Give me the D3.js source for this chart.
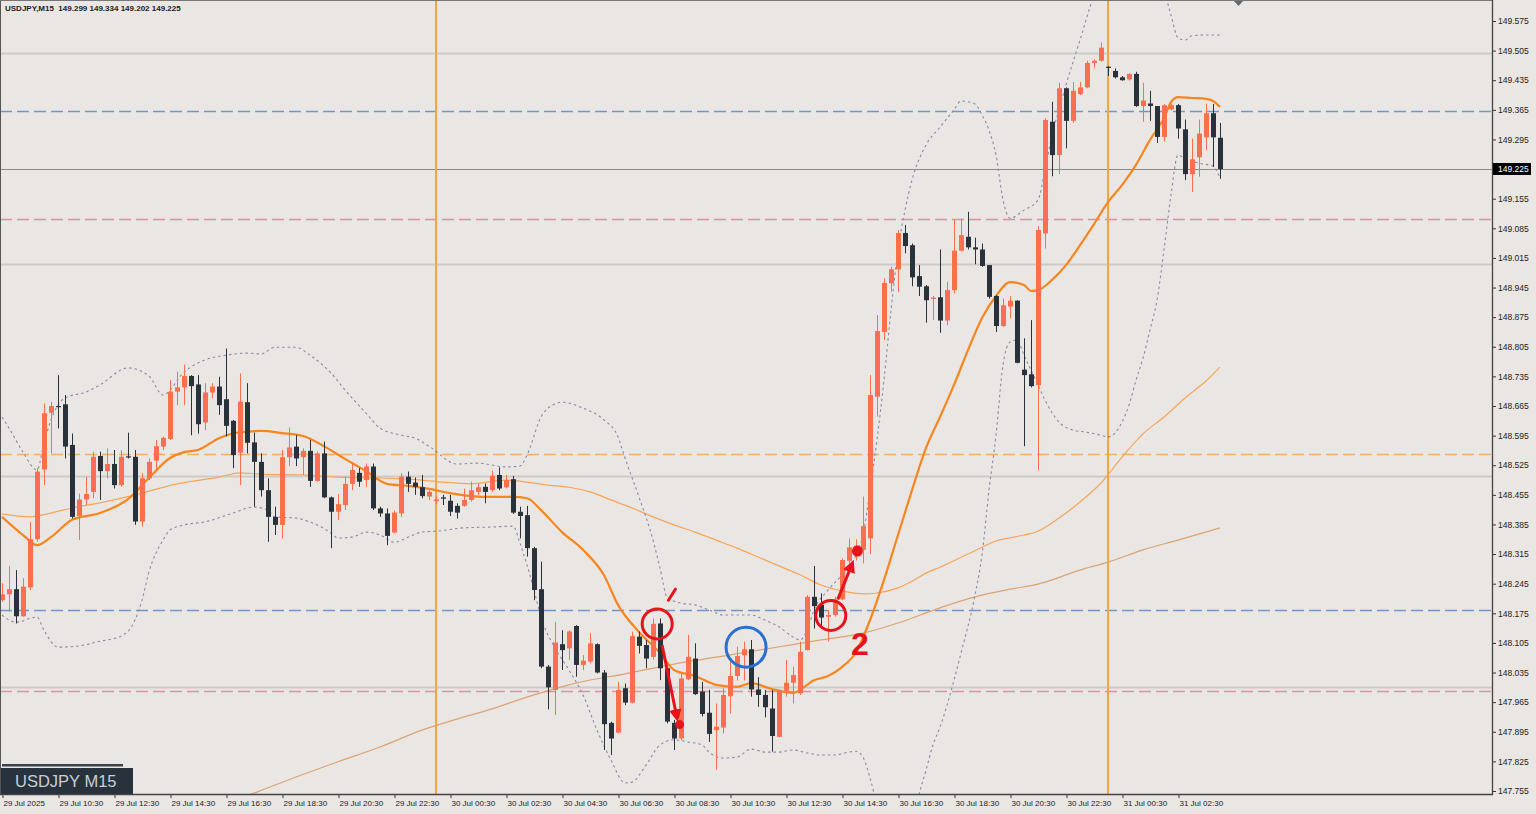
<!DOCTYPE html>
<html><head><meta charset="utf-8">
<script src="https://cdn.jsdelivr.net/npm/d3@7"></script>
<style>
html,body{margin:0;padding:0;background:#e9e6e3;}
svg{display:block;}
</style>
</head><body>
<svg id="chart" width="1536" height="814"></svg>
<script>
// ---------------- DATA ----------------
const headerText = "USDJPY,M15  149.299 149.334 149.202 149.225";
const symbolLabel = "USDJPY M15";
const lastPrice = 149.225;

const opens = [148.206,148.220,148.232,148.168,148.236,148.350,148.515,148.649,148.665,148.669,
148.573,148.405,148.444,148.462,148.547,148.511,148.528,148.478,148.546,148.545,
148.392,148.494,148.536,148.569,148.587,148.699,148.709,148.736,148.716,148.626,
148.697,148.711,148.681,148.630,148.555,148.674,148.579,148.533,148.466,148.403,
148.384,148.544,148.569,148.544,148.559,148.488,148.553,148.449,148.415,148.431,
148.481,148.507,148.490,148.522,148.423,148.411,148.366,148.411,148.498,148.484,
148.473,148.451,148.440,148.449,148.441,148.429,148.429,148.443,148.462,148.474,
148.466,148.502,148.473,148.492,148.415,148.407,148.329,148.232,148.049,147.994,
148.102,148.092,148.145,148.053,148.061,148.102,148.035,147.916,147.893,147.998,
147.964,148.120,148.100,148.072,148.151,148.045,147.916,147.879,148.019,148.068,
147.990,147.940,147.899,147.905,147.979,148.027,148.076,148.090,147.995,147.982,
147.950,147.883,147.992,148.011,147.986,148.088,148.214,148.195,148.167,148.171,
148.208,148.299,148.318,148.325,148.352,148.687,148.840,148.955,148.988,149.074,
149.045,148.972,148.948,148.918,148.922,148.867,148.939,149.032,149.065,149.040,
149.035,148.998,148.925,148.854,148.900,148.914,148.751,148.740,148.714,149.073,
149.337,149.258,149.416,149.339,149.402,149.418,149.476,149.481,149.467,149.457,
149.442,149.437,149.450,149.374,149.380,149.374,149.301,149.366,149.376,149.319,
149.213,149.253,149.300,149.357,149.299];
const highs = [148.246,148.287,148.277,148.258,148.391,148.518,148.671,148.675,148.738,148.691,
148.600,148.458,148.498,148.557,148.557,148.565,148.561,148.561,148.602,148.561,
148.507,148.541,148.585,148.593,148.726,148.746,148.763,148.738,148.738,148.719,
148.719,148.734,148.801,148.632,148.742,148.719,148.602,148.553,148.494,148.427,
148.561,148.614,148.596,148.565,148.585,148.557,148.581,148.451,148.457,148.498,
148.529,148.518,148.529,148.529,148.427,148.423,148.418,148.506,148.510,148.496,
148.502,148.466,148.451,148.455,148.455,148.435,148.470,148.486,148.482,148.482,
148.512,148.520,148.502,148.500,148.427,148.429,148.332,148.297,148.053,148.155,
148.135,148.135,148.147,148.076,148.128,148.104,148.041,147.919,148.013,148.009,
148.132,148.132,148.112,148.163,148.163,148.049,147.923,148.033,148.124,148.104,
148.013,147.994,147.962,147.998,148.061,148.096,148.108,148.112,148.024,147.994,
147.994,147.995,148.065,148.049,148.108,148.218,148.287,148.222,148.183,148.214,
148.305,148.352,148.350,148.451,148.738,148.880,148.967,148.994,149.081,149.093,
149.049,148.998,148.951,148.925,149.035,148.959,149.106,149.108,149.124,149.063,
149.049,148.998,148.927,148.919,148.925,148.915,148.825,148.868,149.090,149.345,
149.384,149.429,149.418,149.431,149.431,149.481,149.484,149.524,149.468,149.463,
149.445,149.451,149.455,149.429,149.410,149.374,149.379,149.380,149.379,149.342,
149.297,149.342,149.380,149.379,149.334];
const lows = [148.202,148.179,148.151,148.167,148.230,148.344,148.478,148.553,148.612,148.541,
148.399,148.348,148.431,148.447,148.443,148.494,148.470,148.474,148.541,148.384,
148.380,148.490,148.514,148.561,148.585,148.667,148.667,148.596,148.600,148.608,
148.683,148.644,148.593,148.518,148.478,148.553,148.427,148.451,148.344,148.360,
148.352,148.523,148.523,148.502,148.474,148.486,148.447,148.329,148.395,148.419,
148.466,148.474,148.474,148.419,148.403,148.336,148.364,148.403,148.462,148.455,
148.447,148.443,148.433,148.431,148.405,148.399,148.427,148.439,148.455,148.435,
148.462,148.466,148.470,148.410,148.352,148.309,148.206,148.045,147.948,147.935,
148.041,148.065,148.025,148.041,148.057,148.033,147.852,147.840,147.891,147.958,
147.962,148.080,148.045,148.065,148.017,147.915,147.852,147.875,148.017,147.982,
147.931,147.871,147.805,147.891,147.938,148.016,148.016,147.978,147.954,147.929,
147.848,147.882,147.978,147.962,147.982,148.087,148.139,148.139,148.108,148.167,
148.206,148.289,148.300,148.293,148.315,148.640,148.821,148.935,148.935,149.026,
148.948,148.925,148.862,148.868,148.838,148.856,148.931,149.030,149.035,149.000,
148.994,148.919,148.840,148.852,148.872,148.766,148.570,148.709,148.513,149.037,
149.208,149.213,149.274,149.335,149.400,149.416,149.463,149.479,149.445,149.439,
149.434,149.434,149.372,149.337,149.339,149.287,149.290,149.364,149.297,149.199,
149.171,149.207,149.270,149.230,149.202];
const closes = [148.220,148.232,148.168,148.238,148.350,148.510,148.648,148.665,148.663,148.569,
148.403,148.444,148.457,148.545,148.511,148.528,148.478,148.545,148.544,148.392,
148.494,148.533,148.570,148.590,148.699,148.709,148.736,148.712,148.622,148.697,
148.711,148.667,148.618,148.549,148.675,148.578,148.533,148.466,148.403,148.384,
148.544,148.567,148.541,148.559,148.488,148.553,148.449,148.415,148.433,148.481,
148.514,148.486,148.522,148.423,148.411,148.358,148.413,148.498,148.481,148.474,
148.452,148.462,148.444,148.446,148.415,148.413,148.443,148.466,148.473,148.462,
148.500,148.470,148.490,148.413,148.405,148.329,148.230,148.049,148.000,148.106,
148.088,148.132,148.053,148.063,148.104,148.035,147.913,147.879,147.994,147.964,
148.121,148.098,148.068,148.150,148.045,147.919,147.879,148.021,148.072,147.984,
147.937,147.890,147.907,147.982,148.027,148.074,148.090,147.995,147.982,147.953,
147.885,147.992,148.011,148.029,148.084,148.214,148.192,148.165,148.171,148.208,
148.301,148.331,148.335,148.381,148.691,148.842,148.956,148.988,149.074,149.043,
148.969,148.947,148.915,148.921,148.867,148.939,149.032,149.069,149.040,149.035,
148.996,148.923,148.854,148.903,148.914,148.767,148.738,148.712,149.081,149.341,
149.258,149.416,149.339,149.410,149.418,149.476,149.481,149.512,149.465,149.442,
149.435,149.450,149.374,149.387,149.374,149.301,149.376,149.376,149.321,149.213,
149.248,149.309,149.357,149.300,149.225];

// time axis labels (bar index, text)
const timeLabelBars = [0,8,16,24,32,40,48,56,64,72,80,88,96,104,112,120,128,136,144,152,160,168];
const timeLabels = ["29 Jul 2025","29 Jul 10:30","29 Jul 12:30","29 Jul 14:30","29 Jul 16:30","29 Jul 18:30",
"29 Jul 20:30","29 Jul 22:30","30 Jul 00:30","30 Jul 02:30","30 Jul 04:30","30 Jul 06:30","30 Jul 08:30",
"30 Jul 10:30","30 Jul 12:30","30 Jul 14:30","30 Jul 16:30","30 Jul 18:30","30 Jul 20:30","30 Jul 22:30",
"31 Jul 00:30","31 Jul 02:30"];
const priceTickLabels = ["147.755","147.825","147.895","147.965","148.035","148.105","148.175","148.245",
"148.315","148.385","148.455","148.525","148.595","148.665","148.735","148.805","148.875","148.945",
"149.015","149.085","149.155","149.225","149.295","149.365","149.435","149.505","149.575"];

// day separators (bar index)
const daySeparatorBars = [62,158];
// horizontal levels
const roundLevels = [148.0,148.5,149.0,149.5];
const blueLevels = [149.362,148.183];
const pinkLevels = [149.107,147.991];
const orangeLevels = [148.551];

// indicator lines: [bar, price]
const fastMA = [[0,148.403],[3,148.360],[5,148.336],[7,148.355],[10,148.396],[14,148.412],[18,148.445],[21,148.495],[24,148.542],[26,148.556],[28,148.561],[31,148.589],[34,148.603],[37,148.606],[40,148.601],[43,148.594],[46,148.570],[49,148.540],[52,148.511],[55,148.481],[58,148.476],[61,148.469],[64,148.459],[67,148.452],[70,148.450],[73,148.450],[75,148.447],[77,148.419],[80,148.367],[83,148.325],[86,148.265],[88,148.195],[91,148.131],[94,148.081],[96,148.041],[99,148.027],[102,148.006],[105,148.001],[107,148.010],[110,147.996],[113,147.987],[116,148.017],[118,148.027],[120,148.048],[122,148.083],[124,148.159],[126,148.254],[128,148.360],[130,148.466],[132,148.566],[134,148.639],[136,148.715],[138,148.797],[140,148.873],[142,148.925],[144,148.958],[146,148.951],[147,148.937],[148,148.939],[150,148.963],[152,148.998],[154,149.045],[156,149.095],[158,149.147],[160,149.187],[162,149.235],[164,149.294],[166,149.346],[167,149.383],[168,149.395],[170,149.393],[172,149.391],[173,149.386],[174,149.372]];
const midMA = [[0,148.410],[4,148.403],[7,148.412],[10,148.424],[14,148.436],[19,148.455],[25,148.481],[31,148.497],[34,148.507],[37,148.504],[43,148.502],[48,148.497],[54,148.495],[60,148.490],[63,148.485],[67,148.481],[72,148.490],[75,148.485],[78,148.478],[81,148.473],[84,148.462],[87,148.443],[90,148.424],[93,148.403],[96,148.384],[99,148.367],[102,148.348],[105,148.329],[108,148.308],[111,148.287],[114,148.266],[117,148.242],[120,148.228],[123,148.221],[125,148.223],[128,148.235],[130,148.251],[132,148.270],[134,148.284],[138,148.315],[142,148.346],[146,148.360],[148,148.369],[151,148.400],[154,148.438],[157,148.483],[160,148.544],[163,148.599],[166,148.639],[169,148.684],[172,148.724],[174,148.757]];
const slowMA = [[33,147.731],[36,147.750],[42,147.788],[48,147.824],[54,147.859],[60,147.899],[65,147.925],[70,147.949],[75,147.977],[82,148.010],[89,148.032],[96,148.055],[103,148.074],[110,148.093],[117,148.112],[123,148.128],[128,148.152],[134,148.188],[139,148.214],[144,148.232],[148,148.244],[154,148.277],[158,148.296],[163,148.325],[168,148.348],[174,148.377]];
const bbUpper = [[0,148.639],[1,148.613],[3,148.556],[5,148.514],[6,148.577],[7,148.632],[9,148.684],[12,148.698],[14,148.715],[18,148.755],[21,148.736],[23,148.691],[26,148.745],[29,148.774],[32,148.785],[35,148.790],[37,148.788],[39,148.804],[42,148.804],[44,148.785],[47,148.743],[49,148.703],[52,148.648],[54,148.613],[57,148.596],[59,148.589],[61,148.570],[65,148.528],[68,148.530],[72,148.521],[74,148.523],[75,148.549],[77,148.639],[79,148.670],[80,148.674],[83,148.660],[86,148.632],[88,148.592],[89,148.542],[91,148.450],[93,148.348],[94,148.282],[95,148.214],[97,148.199],[99,148.195],[101,148.183],[103,148.171],[107,148.171],[109,148.159],[111,148.143],[113,148.119],[114,148.112],[115,148.135],[116,148.183],[118,148.230],[120,148.266],[122,148.313],[123,148.360],[124,148.466],[125,148.585],[126,148.726],[127,148.891],[128,149.033],[129,149.128],[130,149.199],[132,149.282],[134,149.324],[136,149.365],[137,149.386],[139,149.379],[140,149.353],[141,149.317],[142,149.258],[143,149.152],[144,149.109],[146,149.128],[148,149.152],[149,149.223],[150,149.305],[151,149.365],[152,149.424],[154,149.530],[156,149.636],[158,149.707],[161,149.743],[164,149.719],[166,149.648],[167,149.589],[168,149.535],[169,149.530],[170,149.540],[172,149.542],[174,149.542]];
const bbLower = [[0,148.171],[2,148.154],[5,148.166],[6,148.135],[8,148.095],[11,148.098],[14,148.109],[17,148.121],[19,148.159],[20,148.206],[21,148.273],[23,148.348],[24,148.372],[26,148.384],[29,148.391],[33,148.412],[36,148.426],[38,148.419],[39,148.403],[42,148.400],[44,148.391],[47,148.365],[48,148.353],[50,148.355],[52,148.367],[54,148.360],[56,148.343],[58,148.355],[60,148.367],[62,148.369],[66,148.377],[70,148.379],[73,148.381],[74,148.341],[75,148.289],[76,148.230],[77,148.166],[79,148.093],[81,148.041],[83,147.982],[85,147.899],[87,147.828],[89,147.774],[90,147.776],[92,147.816],[94,147.864],[96,147.876],[98,147.871],[100,147.864],[101,147.847],[103,147.833],[105,147.835],[107,147.854],[109,147.847],[111,147.847],[113,147.852],[115,147.845],[117,147.840],[119,147.840],[121,147.847],[122,147.849],[123,147.835],[124,147.786],[125,147.722],[127,147.615],[129,147.592],[130,147.651],[131,147.745],[132,147.804],[133,147.864],[134,147.906],[136,148.017],[137,148.081],[139,148.218],[140,148.313],[141,148.466],[142,148.596],[143,148.762],[144,148.816],[145,148.821],[146,148.785],[147,148.750],[148,148.715],[149,148.679],[151,148.627],[153,148.608],[155,148.603],[157,148.596],[158,148.592],[159,148.601],[160,148.627],[161,148.667],[162,148.726],[163,148.778],[164,148.845],[165,148.915],[166,149.034],[167,149.164],[168,149.258],[169,149.251],[171,149.239],[173,149.232],[174,149.204]];

// hand-drawn annotations, anchored in (bar, price)
const annoCircles = [
  {bar:93.6, price:148.150, r:15, color:"#e8121a"},
  {bar:106.3, price:148.095, r:20, color:"#2b6fd0"},
  {bar:118.4, price:148.170, r:15, color:"#e8121a"}
];
const annoArrows = [
  {b0:94.3, p0:148.100, b1:96.4, p1:147.930},
  {b0:119.4, p0:148.208, b1:121.4, p1:148.290}
];
const annoDots = [{bar:96.8, price:147.912, r:4.5},{bar:122.2, price:148.322, r:5.5}];
const annoStrokes = [{b0:95.2, p0:148.206, b1:96.2, p1:148.232}];
const annoTexts = [{bar:121.3, price:148.076, text:"2"}];

// ---------------- DRAW ----------------
const svg = d3.select("#chart");
const W = 1536, H = 814;
const plotRight = 1492, plotBottom = 794;
const x = d3.scaleLinear().domain([0,174]).range([2,1220]);
const y = d3.scaleLinear().domain([147.755,149.575]).range([791,21]);

svg.append("rect").attr("width",W).attr("height",H).attr("fill","#e9e6e3");
const defs = svg.append("defs");
defs.append("clipPath").attr("id","plotclip").append("rect")
  .attr("x",1).attr("y",1).attr("width",plotRight-1).attr("height",plotBottom-1);
defs.append("marker").attr("id","arrowhead").attr("viewBox","0 0 10 10")
  .attr("refX",6).attr("refY",5).attr("markerWidth",4.2).attr("markerHeight",4.2)
  .attr("orient","auto").append("path").attr("d","M0,0 L10,5 L0,10 z").attr("fill","#e8121a");

const plot = svg.append("g").attr("clip-path","url(#plotclip)");

// round-number grey levels
plot.selectAll(".rl").data(roundLevels).join("line")
  .attr("x1",0).attr("x2",plotRight).attr("y1",d=>Math.round(y(d))+0.5).attr("y2",d=>Math.round(y(d))+0.5)
  .attr("stroke","#cdcac7").attr("stroke-width",2);

function hLevels(arr, color){
  plot.selectAll(null).data(arr).join("line")
    .attr("x1",0).attr("x2",plotRight).attr("y1",d=>Math.round(y(d))+0.5).attr("y2",d=>Math.round(y(d))+0.5)
    .attr("stroke",color).attr("stroke-width",1.3).attr("stroke-dasharray","12,5");
}
hLevels(blueLevels,"#6f98c8");
hLevels(pinkLevels,"#e88aa8");
hLevels(orangeLevels,"#f2b060");

// current price line
plot.append("line").attr("x1",0).attr("x2",plotRight)
  .attr("y1",Math.round(y(lastPrice))+0.5).attr("y2",Math.round(y(lastPrice))+0.5)
  .attr("stroke","#8a8a8a").attr("stroke-width",1);

// day separators
plot.selectAll(".sep").data(daySeparatorBars).join("line")
  .attr("x1",d=>x(d)).attr("x2",d=>x(d)).attr("y1",0).attr("y2",plotBottom)
  .attr("stroke","#f7a53c").attr("stroke-width",2);

// indicator lines
const line = d3.line().x(d=>x(d[0])).y(d=>y(d[1])).curve(d3.curveMonotoneX);
plot.append("path").datum(slowMA).attr("d",line).attr("fill","none").attr("stroke","#dba474").attr("stroke-width",1.2);
plot.append("path").datum(midMA).attr("d",line).attr("fill","none").attr("stroke","#f8a558").attr("stroke-width",1.2);
plot.append("path").datum(bbUpper).attr("d",line).attr("fill","none").attr("stroke","#8e87a6").attr("stroke-width",1.1).attr("stroke-dasharray","2.5,3");
plot.append("path").datum(bbLower).attr("d",line).attr("fill","none").attr("stroke","#8e87a6").attr("stroke-width",1.1).attr("stroke-dasharray","2.5,3");
plot.append("path").datum(fastMA).attr("d",line).attr("fill","none").attr("stroke","#f7861f").attr("stroke-width",2.2);

// candles
const bars = d3.range(opens.length).map(i=>({i,o:opens[i],h:highs[i],l:lows[i],c:closes[i]}));
const bullCol = "#fb6f4f", bearCol = "#29323b";
const cg = plot.append("g");
cg.selectAll(".wick").data(bars).join("line")
  .attr("x1",d=>Math.round(x(d.i))+0.5).attr("x2",d=>Math.round(x(d.i))+0.5)
  .attr("y1",d=>y(d.h)).attr("y2",d=>y(d.l))
  .attr("stroke",d=>d.c>=d.o?bullCol:bearCol).attr("stroke-width",1);
cg.selectAll(".body").data(bars).join("rect")
  .attr("x",d=>Math.round(x(d.i))-2).attr("width",5)
  .attr("y",d=>y(Math.max(d.o,d.c)))
  .attr("height",d=>Math.max(1.2,Math.abs(y(d.o)-y(d.c))))
  .attr("fill",d=>d.c>=d.o?bullCol:bearCol);

// annotations
const ag = plot.append("g");
ag.selectAll(".ac").data(annoCircles).join("circle")
  .attr("cx",d=>x(d.bar)).attr("cy",d=>y(d.price)).attr("r",d=>d.r)
  .attr("fill","none").attr("stroke",d=>d.color).attr("stroke-width",3);
ag.selectAll(".aa").data(annoArrows).join("line")
  .attr("x1",d=>x(d.b0)).attr("y1",d=>y(d.p0)).attr("x2",d=>x(d.b1)).attr("y2",d=>y(d.p1))
  .attr("stroke","#e8121a").attr("stroke-width",3).attr("marker-end","url(#arrowhead)");
ag.selectAll(".ad").data(annoDots).join("circle")
  .attr("cx",d=>x(d.bar)).attr("cy",d=>y(d.price)).attr("r",d=>d.r).attr("fill","#e8121a");
ag.selectAll(".as").data(annoStrokes).join("line")
  .attr("x1",d=>x(d.b0)).attr("y1",d=>y(d.p0)).attr("x2",d=>x(d.b1)).attr("y2",d=>y(d.p1))
  .attr("stroke","#e8121a").attr("stroke-width",3).attr("stroke-linecap","round");
ag.selectAll(".at").data(annoTexts).join("text")
  .attr("x",d=>x(d.bar)).attr("y",d=>y(d.price)).text(d=>d.text)
  .attr("fill","#e8121a").attr("font-family","Liberation Sans, Arial, sans-serif")
  .attr("font-weight","bold").attr("font-size",32);

// frame
svg.append("line").attr("x1",0.5).attr("x2",0.5).attr("y1",0).attr("y2",plotBottom).attr("stroke","#555").attr("stroke-width",1);
svg.append("line").attr("x1",0).attr("x2",plotRight).attr("y1",0.5).attr("y2",0.5).attr("stroke","#777").attr("stroke-width",1);

// price axis
const yAxis = d3.axisRight(y)
  .tickValues(priceTickLabels.map(Number))
  .tickFormat((d,i)=>priceTickLabels[i]).tickSize(4).tickSizeOuter(0);
const ya = svg.append("g").attr("transform",`translate(${plotRight},0)`).call(yAxis);
ya.select(".domain").remove();
ya.selectAll("line").attr("stroke","#333");
ya.selectAll("text").attr("x",6).attr("fill","#222")
  .attr("font-family","Liberation Sans, Arial, sans-serif").attr("font-size",8.5);
svg.append("line").attr("x1",plotRight+0.5).attr("x2",plotRight+0.5).attr("y1",0).attr("y2",plotBottom+1)
  .attr("stroke","#444").attr("stroke-width",1.3);

// current price label
const cpY = Math.round(y(lastPrice));
svg.append("rect").attr("x",plotRight+1).attr("y",cpY-6).attr("width",38).attr("height",12).attr("fill","#000");
svg.append("text").attr("x",plotRight+6).attr("y",cpY+3.2).text(lastPrice.toFixed(3))
  .attr("fill","#fff").attr("font-family","Liberation Sans, Arial, sans-serif").attr("font-size",8.5);

// time axis
const xAxis = d3.axisBottom(x).tickValues(timeLabelBars)
  .tickFormat((d,i)=>timeLabels[i]).tickSize(4).tickSizeOuter(0);
const xa = svg.append("g").attr("transform",`translate(0,${plotBottom})`).call(xAxis);
xa.select(".domain").remove();
xa.selectAll("line").attr("stroke","#333").attr("transform","translate(0.5,0)");
xa.selectAll("text").attr("text-anchor","start").attr("dx",1).attr("y",6)
  .attr("fill","#222").attr("font-family","Liberation Sans, Arial, sans-serif").attr("font-size",8);
svg.append("line").attr("x1",0).attr("x2",plotRight+1).attr("y1",plotBottom+0.5).attr("y2",plotBottom+0.5)
  .attr("stroke","#444").attr("stroke-width",1.5);

// header
svg.append("text").attr("x",5).attr("y",11).text(headerText)
  .attr("fill","#222").attr("font-family","Liberation Sans, Arial, sans-serif").attr("font-size",8).attr("font-weight","bold")
  .attr("xml:space","preserve").style("white-space","pre");

// shift marker
svg.append("path").attr("d","M1234,1 L1243,1 L1238.5,6 Z").attr("fill","#666");

// symbol label box
svg.append("rect").attr("x",2).attr("y",764).attr("width",121).attr("height",2.5).attr("fill","#3b4149");
svg.append("rect").attr("x",1).attr("y",768).attr("width",132).attr("height",26).attr("fill","#27323c");
svg.append("text").attr("x",15).attr("y",787).text(symbolLabel)
  .attr("fill","#c9cfd5").attr("font-family","Liberation Sans, Arial, sans-serif").attr("font-size",16.5);
</script>
</body></html>
